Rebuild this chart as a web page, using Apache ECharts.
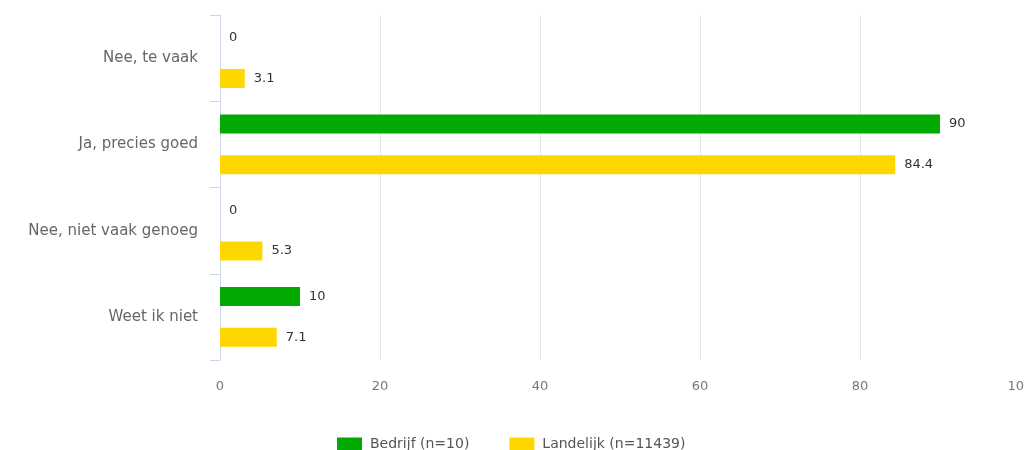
<!DOCTYPE html>
<html><head><meta charset="utf-8">
<script src="https://cdn.jsdelivr.net/npm/echarts@6/dist/echarts.min.js"></script>
<style>html,body{margin:0;padding:0;background:#fff}#c{width:1025px;height:450px}</style>
</head><body><div id="c"></div>
<script>
const categories = ["Nee, te vaak", "Ja, precies goed", "Nee, niet vaak genoeg", "Weet ik niet"];
const bedrijf = [0, 90, 0, 10];
const landelijk = [3.1, 84.4, 5.3, 7.1];
const seriesNames = ["Bedrijf (n=10)", "Landelijk (n=11439)"];
const xTicks = { min: 0, max: 100, interval: 20 };

const chart = echarts.init(document.getElementById('c'));
const font = '"DejaVu Sans", sans-serif';
const lbl = { show: true, position: 'right', distance: 9, color: '#333', fontSize: 13, fontFamily: font };
chart.setOption({
  animation: false,
  grid: { left: 220, right: 5, top: 15, bottom: 90, containLabel: false, outerBoundsMode: 'none' },
  legend: {
    data: seriesNames, left: 332, top: 432, itemWidth: 25, itemHeight: 13, itemGap: 40,
    icon: 'rect', textStyle: { color: '#555', fontSize: 14, fontFamily: font, padding: [0, 0, 0, 3] }
  },
  xAxis: {
    type: 'value', min: xTicks.min, max: xTicks.max, interval: xTicks.interval,
    axisLine: { show: false }, axisTick: { show: false },
    axisLabel: { color: '#777', fontSize: 13, fontFamily: font, margin: 20 },
    splitLine: { show: true, showMaxLine: false, lineStyle: { color: '#e6e6e6' } }
  },
  yAxis: {
    type: 'category', data: categories, inverse: true,
    axisLine: { show: true, lineStyle: { color: '#ccd6eb' } },
    axisTick: { show: true, length: 10, lineStyle: { color: '#ccd6eb' } },
    axisLabel: { color: '#666', fontSize: 15, fontFamily: font, margin: 22 }
  },
  series: [
    { name: seriesNames[0], type: 'bar', data: bedrijf, barWidth: 19, barGap: '115%',
      itemStyle: { color: '#00aa00' }, label: lbl },
    { name: seriesNames[1], type: 'bar', data: landelijk, barWidth: 19,
      itemStyle: { color: '#ffd700' }, label: lbl }
  ]
});
</script></body></html>
